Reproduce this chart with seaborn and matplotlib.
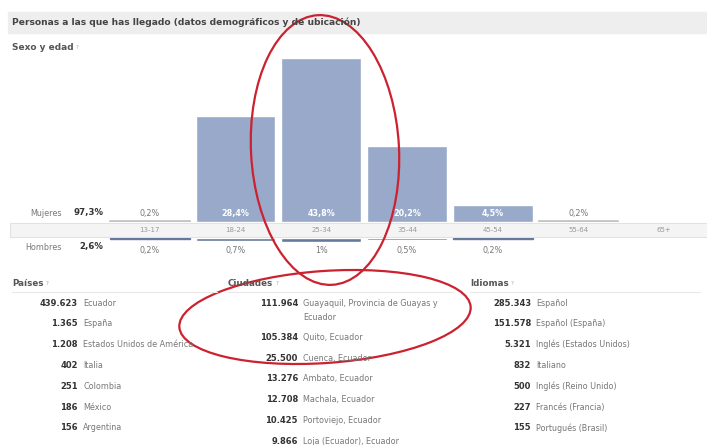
import matplotlib
matplotlib.use('Agg')
import matplotlib.pyplot as plt
import seaborn as sns
import pandas as pd
from matplotlib.patches import Ellipse, Rectangle

# data
age_groups = ['13-17', '18-24', '25-34', '35-44', '45-54', '55-64', '65+']
women_pct = [0.2, 28.4, 43.8, 20.2, 4.5, 0.2, None]
men_pct = [0.2, 0.7, 1.0, 0.5, 0.2, None, None]
women_total = 97.3
men_total = 2.6

countries = ['Ecuador', 'España', 'Estados Unidos de América', 'Italia',
             'Colombia', 'México', 'Argentina']
country_counts = [439623, 1365, 1208, 402, 251, 186, 156]

cities = ['Guayaquil, Provincia de Guayas y\nEcuador', 'Quito, Ecuador',
          'Cuenca, Ecuador', 'Ambato, Ecuador', 'Machala, Ecuador',
          'Portoviejo, Ecuador', 'Loja (Ecuador), Ecuador']
city_counts = [111964, 105384, 25500, 13276, 12708, 10425, 9866]

languages = ['Español', 'Español (España)', 'Inglés (Estados Unidos)', 'Italiano',
             'Inglés (Reino Unido)', 'Francés (Francia)', 'Portugués (Brasil)']
language_counts = [285343, 151578, 5321, 832, 500, 227, 155]

W, H = 707, 445
PX_PER_PCT = 3.74
women_col = '#98a9c9'
men_col = '#66789c'
dark = '#333333'
grey = '#777777'


def box(x0, y0, x1, y1):
    # pixel box (y down) -> figure fraction
    return [x0 / W, 1 - y1 / H, (x1 - x0) / W, (y1 - y0) / H]


def pct(v):
    return f"{v:g}".replace('.', ',') + '%'


def num(n):
    return f"{n:,}".replace(',', '.')


sns.set_theme(style='white')
plt.rcParams['font.family'] = ['DejaVu Sans']

fig = plt.figure(figsize=(W / 100, H / 100), dpi=100)

# background layer: title band and age strip
bg = fig.add_axes([0, 0, 1, 1], zorder=0)
bg.set_xlim(0, W)
bg.set_ylim(H, 0)
bg.axis('off')
bg.add_patch(Rectangle((8, 12), 699, 21, color='#eeeeee'))
bg.add_patch(Rectangle((10, 223), 697, 14, facecolor='#f4f4f4', edgecolor='#e2e2e2',
                       linewidth=0.8))

df = pd.DataFrame({'age': age_groups, 'mujeres': women_pct, 'hombres': men_pct})

# women bars (upwards)
ax_w = fig.add_axes(box(107, 40, 707, 222), zorder=2)
sns.barplot(data=df, x='age', y='mujeres', order=age_groups, color=women_col,
            saturation=1, width=0.93, errorbar=None, ax=ax_w)
ax_w.set_ylim(0, 182 / PX_PER_PCT)
ax_w.set_xlim(-0.5, 6.5)
for p in ax_w.patches:
    if p.get_height() < 1:
        p.set_facecolor('#c2c2c2')
        p.set_edgecolor('#c2c2c2')
        p.set_linewidth(1.2)
for i, v in enumerate(women_pct):
    if v is None:
        continue
    ax_w.text(i, 2.4, pct(v), ha='center', va='center', fontsize=5.8,
              color='white' if v > 1 else grey, fontweight='bold' if v > 1 else 'normal')
ax_w.set_xticks(range(len(age_groups)))
ax_w.set_xticklabels(age_groups)
ax_w.tick_params(axis='x', length=0, pad=3.5, labelsize=5, labelcolor='#999999')
ax_w.set_yticks([])
ax_w.set_xlabel('')
ax_w.set_ylabel('')
sns.despine(ax=ax_w, left=True, bottom=True)
ax_w.patch.set_alpha(0)

# men bars (downwards)
ax_m = fig.add_axes(box(107, 238, 707, 248), zorder=2)
sns.barplot(data=df, x='age', y='hombres', order=age_groups, color=men_col,
            saturation=1, width=0.93, errorbar=None, ax=ax_m)
ax_m.set_ylim(10 / PX_PER_PCT, 0)
ax_m.set_xlim(-0.5, 6.5)
for p in ax_m.patches:
    if p.get_height() < 0.5:
        p.set_edgecolor(men_col)
        p.set_linewidth(1.0)
for i, v in enumerate(men_pct):
    if v is None:
        continue
    ax_m.text(i, 3.3, pct(v), ha='center', va='center', fontsize=5.8, color=grey)
ax_m.set_xticks([])
ax_m.set_yticks([])
ax_m.set_xlabel('')
ax_m.set_ylabel('')
sns.despine(ax=ax_m, left=True, bottom=True)
ax_m.patch.set_alpha(0)

# overlay for texts and the red marks
ov = fig.add_axes([0, 0, 1, 1], zorder=5)
ov.set_xlim(0, W)
ov.set_ylim(H, 0)
ov.axis('off')
ov.patch.set_alpha(0)


def header(x, y, label, size):
    t = ov.text(x, y, label, fontsize=size, fontweight='bold', color='#555555', va='center')
    ov.annotate('?', xy=(1, 1), xycoords=t, xytext=(1.5, -1.5), textcoords='offset points',
                fontsize=4, color='#aaaaaa', ha='left', va='top')


ov.text(12, 22, 'Personas a las que has llegado (datos demográficos y de ubicación)',
        fontsize=6.6, fontweight='bold', color='#444444', va='center')
header(12, 47, 'Sexo y edad', 6.5)

ov.text(62, 213, 'Mujeres', fontsize=5.8, color=grey, ha='right', va='center')
ov.text(103, 213, pct(women_total), fontsize=6.2, color=dark, fontweight='bold',
        ha='right', va='center')
ov.text(62, 247, 'Hombres', fontsize=5.8, color=grey, ha='right', va='center')
ov.text(103, 247, pct(men_total), fontsize=6.2, color=dark, fontweight='bold',
        ha='right', va='center')


def block(x_num, x_head, title, counts, names, head_w):
    header(x_head, 283, title, 6.3)
    ov.plot([x_head, x_head + head_w], [292, 292], color='#e8e8e8', lw=0.8)
    y = 303
    for n, name in zip(counts, names):
        ov.text(x_num, y, num(n), fontsize=6, fontweight='bold', color=dark,
                ha='right', va='center')
        lines = name.split('\n')
        for k, line in enumerate(lines):
            ov.text(x_num + 5, y + k * 14.5, line, fontsize=5.8, color=grey, va='center')
        y += 20.8 + (len(lines) - 1) * 13.5


block(78, 12, 'Países', country_counts, countries, 205)
block(298, 228, 'Ciudades', city_counts, cities, 225)
block(531, 470, 'Idiomas', language_counts, languages, 230)

# red annotation ellipses
ov.add_patch(Ellipse((325, 150), 148, 270, angle=-3, fill=False,
                     edgecolor='#cc2230', linewidth=1.6))
ov.add_patch(Ellipse((325, 317), 292, 92, angle=-4, fill=False,
                     edgecolor='#cc2230', linewidth=1.6))

fig.savefig('out.png', dpi=100)
